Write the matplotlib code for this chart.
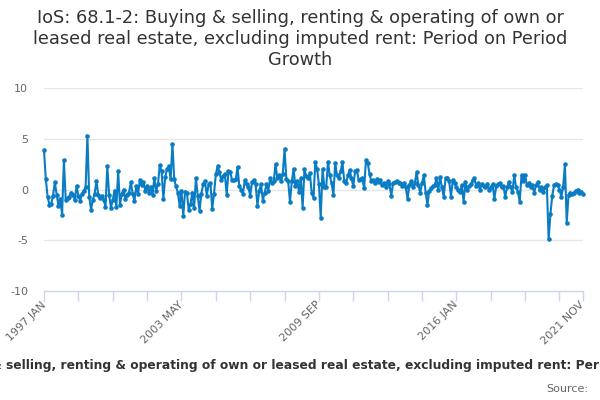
import matplotlib
matplotlib.use("Agg")
import matplotlib.pyplot as plt
import numpy as np
import pandas as pd

title_text = ("IoS: 68.1-2: Buying & selling, renting & operating of own or leased real estate, "
              "excluding imputed rent: Period on Period Growth")
title_lines = ("IoS: 68.1-2: Buying & selling, renting & operating of own or\n"
               "leased real estate, excluding imputed rent: Period on Period\n"
               "Growth")
start_month = "1997-01"
y_ticks = [-10, -5, 0, 5, 10]

# Period-on-period growth (%), in chronological order
growth_1997_98 = [3.9, 1.0, -0.7, -1.5, -1.4, -0.6, 0.7, -0.5, -1.6, -0.9, -2.5, 2.9,
                  -1.0, -0.8, -0.7, -0.3, -0.5, -1.0, 0.3, -0.6, -1.1, -0.4, -0.1, 0.2]
growth_1999_a = [5.3, -0.7, -2.0, -1.0, -0.4, 0.8, -0.5, -0.8, -0.6, -1.0, -1.7, 2.3,
                 -0.5, -1.8, -1.0, -0.1, -1.7, 1.8]
growth_2000_a = [-1.5, -0.4, 0.0, -0.9, -0.5, -0.3, 0.7, -0.4, -1.1, 0.3, -0.4, 0.9,
                 0.4, 0.7, -0.1, 0.3, -0.3, 0.2, -0.5, 1.1, -0.1, 0.5, 2.4, 1.8,
                 -0.9, 1.2, 2.0, 2.3, 1.0]
growth_2002_b = [4.5, 1.0, 0.3, -0.3, -1.6, -0.1, -2.6, -0.2, -0.3, -2.0, -1.4, -0.3, -1.8]
growth_2004_a = [1.1, -0.6, -2.1, -0.4, 0.5, 0.8, -0.6, 0.5, 0.6, -1.9, -0.4, 1.5,
                 2.3, 1.7, 0.9, 1.3, 1.5, -0.5, 1.8, 1.7, 0.9, 0.9, 1.0, 2.2,
                 0.3, 0.0, -0.4, 0.9, 0.5, 0.2, -0.6, 0.7, 0.9, 0.5, -1.6, -0.1,
                 0.5, -1.1, -0.3, 0.5, -0.1, 1.1, 0.6]
growth_2007_b = [0.8, 2.5, 1.1, 1.4, 0.8, 1.5, 4.0, 1.0, 0.8, -1.2, 0.8, 2.0,
                 0.3, 0.8, -0.2, 1.1, -1.8, 2.0, 1.3, 1.1, 1.6, -0.3, -0.8, 2.7,
                 2.0, 0.5, -2.8, 2.0, 0.2, 0.2, 2.7, 1.4, 0.6, -0.5, 2.6, 1.4,
                 1.1, 1.8, 2.7, 0.8, 0.6, 1.4, 1.9]
growth_2011_a = [1.1, 0.3, 1.8, 1.9, 0.9, 1.0, 1.1, 0.1, 2.9, 2.6, 1.5, 0.8,
                 0.9, 0.6, 1.0, 0.7, 0.9, 0.4, 0.6, 0.2, 0.8, 0.5, -0.6, 0.6,
                 0.7, 0.8, 0.6, 0.6, 0.3, 0.6, 0.2, -0.9, 0.4, 0.8, 0.2, 0.6,
                 1.7, 0.4, -0.3, 0.6, 1.4, -0.3, -1.5]
growth_2014_b = [-0.1, 0.1, 0.3, 0.4, 1.1, 0.0, 1.2, 0.2, -0.7, 1.1, 1.1, 0.8,
                 -0.7, 0.9, 0.6, 0.2, 0.0, -0.2, 0.4, -1.2, 0.7, 0.0, 0.3, 0.5,
                 0.9, 1.1, 0.3, 0.6, 0.0, 0.5, 0.3, 0.2, 0.5, 0.0, 0.2, 0.5,
                 -0.9, 0.3, 0.5, 0.6, 0.2, 0.3, -0.7, 0.2]
growth_2018_b = [0.7, 0.2, -0.2, 1.4, 0.2, -0.2, -1.2, 1.4, 0.8, 1.4, 0.4, 0.6,
                 0.2, 0.4, -0.3, 0.4, 0.7, 0.0, 0.2, -0.2, 0.2, 0.4]
growth_2020_c = [-4.9, -2.4, -0.6, 0.4, 0.5, 0.4, 0.0, -0.7, 0.2, 2.5, -3.3, -0.5,
                 -0.3, -0.4, -0.3, -0.1, 0.0, -0.3, -0.2, -0.4]

growth = (growth_1997_98 + growth_1999_a + growth_2000_a + growth_2002_b + growth_2004_a
          + growth_2007_b + growth_2011_a + growth_2014_b + growth_2018_b + growth_2020_c)

months = pd.date_range(start_month, periods=len(growth), freq="MS")
labels = [f"{d.year} {d.strftime('%b').upper()}" for d in months]
n = len(growth)
x = np.arange(n)

W, H = 600, 400
fig = plt.figure(figsize=(6, 4), dpi=100)
fig.patch.set_facecolor("white")
ax = fig.add_axes([44 / W, 1 - 291 / H, (583 - 44) / W, (291 - 88) / H])

for yv in y_ticks[1:]:
    ax.axhline(yv, color="#e6e6e6", lw=1, zorder=0)

ax.plot(x, growth, color="#0a7cc4", lw=1.5, marker="o", ms=3.3,
        markeredgewidth=0, zorder=3, clip_on=False)

ax.set_xlim(0, n - 1)
ax.set_ylim(-10, 10)
ax.set_yticks(y_ticks)
ax.set_yticklabels([str(v) for v in y_ticks])
ax.tick_params(axis="y", length=0, pad=11.5, labelsize=8, labelcolor="#666666")

major = [0, 76, 152, 228, n - 1]
minor = [i for i in range(0, n, 19) if i not in major]
ax.set_xticks(major)
ax.set_xticklabels([labels[i] for i in major], rotation=45, ha="right",
                   rotation_mode="anchor", va="center")
ax.set_xticks(minor, minor=True)
ax.tick_params(axis="x", which="both", length=7.2, width=1, color="#ccd6eb",
               labelsize=8, labelcolor="#666666", pad=1.5)

for s in ["top", "right", "left"]:
    ax.spines[s].set_visible(False)
ax.spines["bottom"].set_color("#ccd6eb")
ax.spines["bottom"].set_linewidth(1)

fig.text(0.5, 1 - 9 / H, title_lines, ha="center", va="top", fontsize=12.8,
         color="#333333", linespacing=1.22)
fig.text(0.5, 1 - 365 / H, title_text, ha="center", va="center", fontsize=8.8,
         fontweight="bold", color="#333333")
fig.text(588 / W, 1 - 389 / H, "Source:", ha="right", va="center", fontsize=8,
         color="#666666")

fig.savefig("out.png", dpi=100)
